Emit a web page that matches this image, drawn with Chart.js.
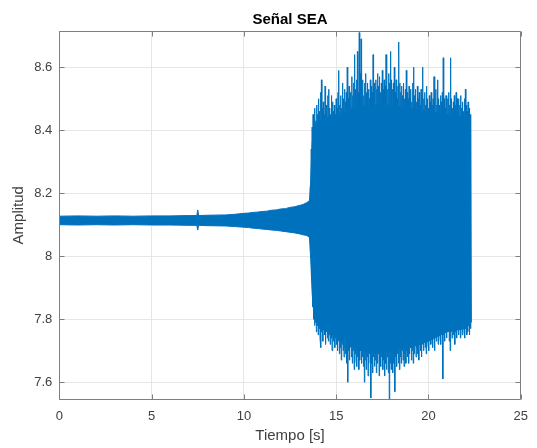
<!DOCTYPE html>
<html>
<head>
<meta charset="utf-8">
<script src="https://cdn.jsdelivr.net/npm/chart.js@4.4.1/dist/chart.umd.min.js"></script>
<style>
  html, body { margin: 0; padding: 0; background: #fff; }
</style>
</head>
<body>
<canvas id="sea" width="537" height="448"></canvas>
<script>
// quiet part of the signal (0 - 13.6 s): band between upper and lower envelope
const quietTime = [0, 1, 2, 3, 4, 5, 6, 7, 7.45, 7.5, 7.55, 8, 9, 9.5, 10, 10.25, 10.5, 10.75, 11, 11.25, 11.5, 11.75, 12, 12.25, 12.5, 12.75, 13, 13.2, 13.4, 13.6];
const quietHigh = [8.127, 8.128, 8.127, 8.128, 8.127, 8.128, 8.128, 8.129, 8.129, 8.147, 8.129, 8.130, 8.131, 8.133, 8.136, 8.137, 8.139, 8.140, 8.142, 8.143, 8.146, 8.147, 8.150, 8.151, 8.155, 8.157, 8.161, 8.164, 8.170, 8.178];
const quietLow = [8.100, 8.099, 8.100, 8.099, 8.100, 8.099, 8.099, 8.098, 8.098, 8.083, 8.098, 8.097, 8.096, 8.094, 8.092, 8.091, 8.089, 8.088, 8.086, 8.085, 8.083, 8.082, 8.080, 8.078, 8.076, 8.074, 8.071, 8.068, 8.066, 8.058];

// active part: dense core of the oscillation
const coreTime = [13.55, 13.62, 13.7, 13.8, 14.0, 15.0, 16.0, 17.0, 18.0, 19.0, 20.0, 21.0, 22.0, 22.3];
const coreHigh = [8.175, 8.24, 8.36, 8.41, 8.43, 8.45, 8.47, 8.48, 8.48, 8.47, 8.46, 8.45, 8.44, 8.42];
const coreLow = [8.060, 7.99, 7.88, 7.81, 7.78, 7.74, 7.71, 7.69, 7.70, 7.71, 7.73, 7.76, 7.77, 7.79];

// active part (13.6 - 22.3 s), peak and trough every 0.05 s
const activeStart = 13.6;
const activeStep = 0.05;
const activeHigh = [
  8.22, 8.34, 8.41, 8.45, 8.44, 8.47, 8.43, 8.48, 8.45, 8.50,
  8.46, 8.52, 8.56, 8.47, 8.49, 8.45, 8.54, 8.48, 8.46, 8.51,
  8.53, 8.47, 8.45, 8.51, 8.49, 8.46, 8.48, 8.44, 8.50, 8.47,
  8.52, 8.59, 8.48, 8.51, 8.47, 8.55, 8.50, 8.53, 8.49, 8.52,
  8.60, 8.50, 8.54, 8.48, 8.52, 8.57, 8.51, 8.55, 8.64, 8.53,
  8.56, 8.65, 8.52, 8.71, 8.58, 8.69, 8.53, 8.56, 8.51, 8.55,
  8.58, 8.52, 8.55, 8.53, 8.50, 8.56, 8.54, 8.52, 8.64, 8.55,
  8.51, 8.56, 8.53, 8.58, 8.54, 8.57, 8.52, 8.55, 8.59, 8.53,
  8.56, 8.54, 8.64, 8.57, 8.53, 8.58, 8.55, 8.65, 8.56, 8.53,
  8.55, 8.60, 8.52, 8.56, 8.50, 8.54, 8.68, 8.55, 8.52, 8.54,
  8.51, 8.55, 8.50, 8.53, 8.59, 8.52, 8.50, 8.54, 8.51, 8.53,
  8.49, 8.55, 8.60, 8.51, 8.53, 8.49, 8.54, 8.50, 8.52, 8.48,
  8.53, 8.51, 8.60, 8.50, 8.52, 8.48, 8.54, 8.50, 8.47, 8.51,
  8.49, 8.52, 8.48, 8.50, 8.57, 8.49, 8.53, 8.48, 8.56, 8.50,
  8.48, 8.51, 8.49, 8.52, 8.63, 8.50, 8.47, 8.51, 8.48, 8.50,
  8.52, 8.48, 8.63, 8.50, 8.47, 8.49, 8.51, 8.48, 8.52, 8.50,
  8.47, 8.50, 8.48, 8.51, 8.47, 8.49, 8.46, 8.50, 8.53, 8.48,
  8.46, 8.49, 8.47, 8.45, 8.43
];
const activeLow = [
  8.02, 7.93, 7.84, 7.80, 7.78, 7.79, 7.76, 7.78, 7.75, 7.77,
  7.74, 7.71, 7.76, 7.73, 7.77, 7.75, 7.72, 7.76, 7.74, 7.73,
  7.75, 7.72, 7.74, 7.70, 7.75, 7.73, 7.71, 7.74, 7.72, 7.70,
  7.73, 7.69, 7.71, 7.67, 7.72, 7.70, 7.68, 7.71, 7.69, 7.66,
  7.60, 7.70, 7.67, 7.71, 7.68, 7.66, 7.70, 7.64, 7.69, 7.67,
  7.65, 7.68, 7.64, 7.67, 7.70, 7.66, 7.68, 7.65, 7.60, 7.67,
  7.64, 7.68, 7.62, 7.66, 7.69, 7.55, 7.66, 7.63, 7.68, 7.65,
  7.67, 7.63, 7.66, 7.69, 7.62, 7.67, 7.65, 7.68, 7.64, 7.67,
  7.62, 7.66, 7.64, 7.68, 7.63, 7.54, 7.66, 7.64, 7.67, 7.63,
  7.66, 7.57, 7.68, 7.65, 7.69, 7.66, 7.64, 7.68, 7.66, 7.70,
  7.67, 7.65, 7.69, 7.66, 7.70, 7.68, 7.66, 7.69, 7.71, 7.67,
  7.70, 7.66, 7.69, 7.72, 7.68, 7.71, 7.69, 7.67, 7.72, 7.70,
  7.68, 7.72, 7.70, 7.73, 7.71, 7.69, 7.74, 7.72, 7.70, 7.74,
  7.72, 7.75, 7.71, 7.74, 7.70, 7.76, 7.73, 7.75, 7.72, 7.76,
  7.74, 7.72, 7.76, 7.61, 7.75, 7.73, 7.77, 7.74, 7.76, 7.78,
  7.73, 7.70, 7.76, 7.74, 7.77, 7.75, 7.72, 7.76, 7.74, 7.77,
  7.75, 7.78, 7.74, 7.77, 7.75, 7.78, 7.76, 7.74, 7.77, 7.75,
  7.76, 7.78, 7.75, 7.77, 7.79
];

const xTicks = [0, 5, 10, 15, 20, 25];
const yTicks = [7.6, 7.8, 8, 8.2, 8.4, 8.6];

const blue = "#0072bd";
const font = "'Liberation Sans', Arial, Helvetica, sans-serif";

const toPts = (xs, ys) => xs.map((t, i) => ({ x: t, y: ys[i] }));

// dense oscillation: go up to each peak and back down to its trough
const activePts = [];
activeHigh.forEach((hi, i) => {
  const t = activeStart + i * activeStep;
  activePts.push({ x: t, y: hi });
  activePts.push({ x: t + activeStep / 2, y: activeLow[i] });
});

const band = (data, fill) => ({
  data,
  borderColor: blue,
  backgroundColor: blue,
  borderWidth: 1,
  pointRadius: 0,
  tension: 0,
  fill,
});

// MATLAB style box with inward ticks on all four sides
const matlabAxes = {
  id: "matlabAxes",
  afterDraw(chart) {
    const { ctx, chartArea: a, scales } = chart;
    const len = 5;
    const l = Math.round(a.left) + 0.5;
    const r = Math.round(a.right) - 0.5;
    const t = Math.round(a.top) + 0.5;
    const b = Math.round(a.bottom) - 0.5;
    ctx.save();
    ctx.strokeStyle = "#7f7f7f";
    ctx.lineWidth = 1;
    ctx.beginPath();
    ctx.rect(l, t, r - l, b - t);
    xTicks.forEach((v) => {
      const px = Math.round(scales.x.getPixelForValue(v)) + 0.5;
      ctx.moveTo(px, b); ctx.lineTo(px, b - len);
      ctx.moveTo(px, t); ctx.lineTo(px, t + len);
    });
    yTicks.forEach((v) => {
      const py = Math.round(scales.y.getPixelForValue(v)) + 0.5;
      ctx.moveTo(l, py); ctx.lineTo(l + len, py);
      ctx.moveTo(r, py); ctx.lineTo(r - len, py);
    });
    ctx.stroke();
    ctx.restore();
  },
};

new Chart(document.getElementById("sea"), {
  type: "line",
  data: {
    datasets: [
      band(toPts(quietTime, quietHigh), "+1"),
      band(toPts(quietTime, quietLow), false),
      band(toPts(coreTime, coreHigh), "+1"),
      band(toPts(coreTime, coreLow), false),
      band(activePts, false),
    ],
  },
  options: {
    responsive: false,
    animation: false,
    layout: { padding: { top: 0, right: 9.7, bottom: 0, left: 0 } },
    plugins: {
      legend: { display: false },
      tooltip: { enabled: false },
      title: {
        display: true,
        fullSize: false,
        text: "Señal SEA",
        color: "#000",
        font: { family: font, size: 15, weight: "bold" },
        padding: { top: 11, bottom: 2 },
      },
    },
    scales: {
      x: {
        type: "linear",
        min: 0,
        max: 25,
        afterBuildTicks: (s) => { s.ticks = xTicks.map((v) => ({ value: v })); },
        afterFit: (s) => { s.height = 48.5; },
        grid: { color: "#e6e6e6", drawTicks: false },
        border: { display: false },
        ticks: { color: "#404040", font: { family: font, size: 13 }, padding: 9, maxRotation: 0, autoSkip: false },
        title: {
          display: true,
          text: "Tiempo [s]",
          color: "#404040",
          font: { family: font, size: 15 },
          padding: { top: 0, bottom: 3 },
        },
      },
      y: {
        type: "linear",
        min: 7.545,
        max: 8.715,
        afterBuildTicks: (s) => { s.ticks = yTicks.map((v) => ({ value: v })); },
        afterFit: (s) => { s.width = 59.3; },
        grid: { color: "#e6e6e6", drawTicks: false },
        border: { display: false },
        ticks: { color: "#404040", font: { family: font, size: 13 }, padding: 7, callback: (v) => String(v) },
        title: {
          display: true,
          text: "Amplitud",
          color: "#404040",
          font: { family: font, size: 15 },
          padding: { top: 10, bottom: 0 },
        },
      },
    },
  },
  plugins: [matlabAxes],
});
</script>
</body>
</html>
